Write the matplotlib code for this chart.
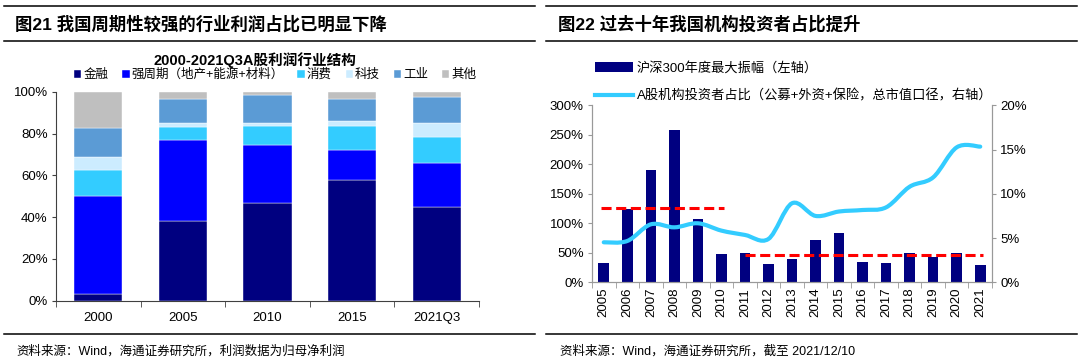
import matplotlib
matplotlib.use("Agg")
import matplotlib.pyplot as plt
import numpy as np
from matplotlib.patches import Patch, PathPatch
from matplotlib.lines import Line2D
from matplotlib.path import Path
from matplotlib.ticker import PercentFormatter

plt.rcParams['font.family'] = ['Liberation Sans', 'Noto Sans CJK SC', 'DejaVu Sans']
plt.rcParams['axes.unicode_minus'] = False

# ---- left chart data: profit share by sector (%)
periods = ["2000", "2005", "2010", "2015", "2021Q3"]
sectors = ["金融", "强周期（地产+能源+材料）", "消费", "科技", "工业", "其他"]
finance = [3.2, 38.3, 46.7, 57.9, 45.0]
cyclical = [46.9, 38.6, 27.6, 14.2, 21.0]
consumer = [12.4, 6.4, 9.1, 11.6, 12.5]
tech = [6.2, 1.5, 1.8, 2.4, 6.7]
industry = [13.8, 11.7, 13.0, 10.4, 12.4]
other = [17.5, 3.5, 1.8, 3.5, 2.4]
sector_colors = ["#000080", "#0000FF", "#33CCFF", "#CCECFF", "#5B9BD5", "#BFBFBF"]

# ---- right chart data
years = [str(y) for y in range(2005, 2022)]
amplitude = [32.8, 123.7, 191.0, 258.8, 108.0, 47.5, 50.3, 31.0, 39.0, 71.8,
             83.0, 33.9, 32.2, 49.2, 42.4, 50.3, 28.8]
inst_share = [4.52, 4.67, 6.55, 6.21, 6.67, 5.84, 5.35, 4.90, 8.93, 7.50,
              8.00, 8.17, 8.47, 10.80, 11.86, 15.25, 15.33]
avg_early = 126.5   # mean amplitude 2005-2010
avg_late = 46.5     # mean amplitude 2011-2021

fig = plt.figure(figsize=(10.8, 3.59), dpi=100)
W, H = 1080.0, 359.0

def fx(px):
    return px / W

def fy(py):
    return 1 - py / H

# ---- panel headers / rules
for x0, x1 in [(4, 535), (546, 1077)]:
    for yy in [5.5, 41, 334]:
        fig.add_artist(Line2D([fx(x0), fx(x1)], [fy(yy), fy(yy)], color="black", lw=1.1))

fig.text(fx(15), fy(24), "图21 我国周期性较强的行业利润占比已明显下降", fontsize=12.5,
         fontweight="bold", va="center", ha="left")
fig.text(fx(558), fy(24), "图22 过去十年我国机构投资者占比提升", fontsize=12.5,
         fontweight="bold", va="center", ha="left")
fig.text(fx(16), fy(351), "资料来源：Wind，海通证券研究所，利润数据为归母净利润", fontsize=9,
         va="center", ha="left")
fig.text(fx(560), fy(351), "资料来源：Wind，海通证券研究所，截至 2021/12/10", fontsize=9,
         va="center", ha="left")

# ---- left chart
ax = fig.add_axes([fx(56), fy(300.7), fx(479 - 56), (300.7 - 91.7) / H])
x = np.arange(len(periods))
bottom = np.zeros(len(periods))
for name, vals, col in zip(sectors, [finance, cyclical, consumer, tech, industry, other], sector_colors):
    ax.bar(x, vals, width=0.57, bottom=bottom, color=col, label=name, edgecolor="white", linewidth=0.3)
    bottom += np.array(vals)
ax.set_xlim(-0.5, len(periods) - 0.5)
ax.set_ylim(0, 100)
ax.set_yticks(np.arange(0, 101, 20))
ax.yaxis.set_major_formatter(PercentFormatter(decimals=0))
ax.set_xticks(x)
ax.set_xticklabels(periods)
ax.set_xticks(np.arange(-0.5, len(periods), 1), minor=True)
ax.tick_params(axis="x", which="major", length=0, labelsize=9.5, pad=8)
ax.tick_params(axis="x", which="minor", length=4, color="#404040", direction="out")
ax.tick_params(axis="y", length=3, color="#404040", labelsize=9.5, pad=3)
for s in ["top", "right"]:
    ax.spines[s].set_visible(False)
for s in ["left", "bottom"]:
    ax.spines[s].set_color("#404040")
fig.text(fx(255), fy(60.5), "2000-2021Q3A股利润行业结构", ha="center", va="center",
         fontsize=10.5, fontweight="bold")
fig.legend(*ax.get_legend_handles_labels(), loc="center", bbox_to_anchor=(fx(275), fy(75)),
           ncol=6, frameon=False, fontsize=9, handlelength=0.6, handleheight=0.6,
           handletextpad=0.15, columnspacing=1.1, borderpad=0)

# ---- right chart
bx = fig.add_axes([fx(592), fy(282.3), fx(992 - 592), (282.3 - 105.3) / H])
xr = np.arange(len(years))
bx.bar(xr, amplitude, width=0.45, color="#000080", zorder=2)
bx.set_xlim(-0.5, len(years) - 0.5)
bx.set_ylim(0, 300)
bx.set_yticks(np.arange(0, 301, 50))
bx.yaxis.set_major_formatter(PercentFormatter(decimals=0))
bx.set_xticks(xr)
bx.set_xticklabels(years, rotation=90)
bx.set_xticks(np.arange(-0.5, len(years), 1), minor=True)
bx.tick_params(axis="x", which="major", length=0, labelsize=9.5, pad=4)
bx.tick_params(axis="x", which="minor", length=4, color="#999999", direction="out")
bx.tick_params(axis="y", length=3, color="#999999", labelsize=9.5, pad=3)
bx.spines["top"].set_visible(False)
for s in ["left", "bottom", "right"]:
    bx.spines[s].set_color("#999999")

# average dashed lines
bx.plot([0 - 0.1, 5 + 0.1], [avg_early, avg_early], color="#FF0000", lw=2.2,
        dashes=(3.3, 1.5), zorder=4)
bx.plot([6, 16 + 0.1], [avg_late, avg_late], color="#FF0000", lw=2.2,
        dashes=(3.3, 1.5), zorder=4)

bx2 = bx.twinx()
bx2.set_ylim(0, 20)
bx2.set_yticks(np.arange(0, 21, 5))
bx2.yaxis.set_major_formatter(PercentFormatter(decimals=0))
bx2.tick_params(axis="y", length=3, color="#999999", labelsize=9.5, pad=3)
bx2.spines["top"].set_visible(False)
for s in ["left", "bottom", "right"]:
    bx2.spines[s].set_color("#999999")

# smooth line (Catmull-Rom -> cubic Bezier through the data points)
pts = np.column_stack([xr, inst_share]).astype(float)
verts = [pts[0]]
codes = [Path.MOVETO]
n = len(pts)
for i in range(n - 1):
    p0 = pts[i - 1] if i > 0 else pts[i]
    p1 = pts[i]
    p2 = pts[i + 1]
    p3 = pts[i + 2] if i + 2 < n else pts[i + 1]
    c1 = p1 + (p2 - p0) / 6.0
    c2 = p2 - (p3 - p1) / 6.0
    verts += [c1, c2, p2]
    codes += [Path.CURVE4] * 3
bx2.add_patch(PathPatch(Path(verts, codes), facecolor="none", edgecolor="#33CCFF", lw=3,
                        capstyle="round", zorder=3))

leg_handles = [Patch(facecolor="#000080"), Line2D([], [], color="#33CCFF", lw=3)]
leg_labels = ["沪深300年度最大振幅（左轴）", "A股机构投资者占比（公募+外资+保险，总市值口径，右轴）"]
fig.legend(leg_handles, leg_labels, loc="upper left", bbox_to_anchor=(fx(588), fy(55)),
           frameon=False, fontsize=9.5, handlelength=2.9, handletextpad=0.3,
           labelspacing=1.1, borderpad=0)

fig.savefig("out.png", dpi=100)
